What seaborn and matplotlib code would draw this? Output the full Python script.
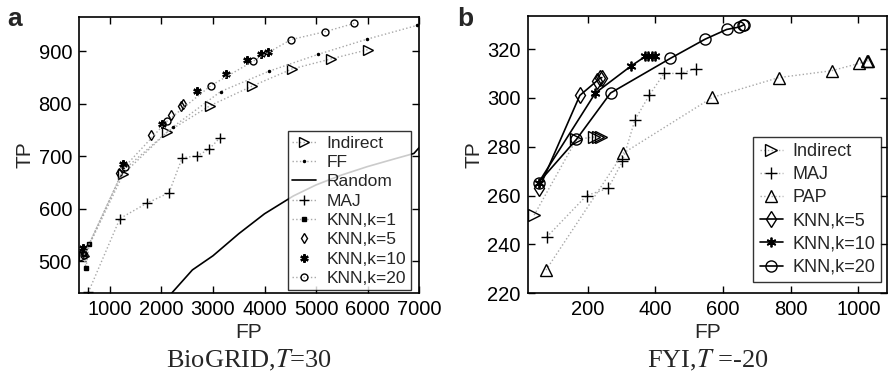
import matplotlib
matplotlib.use("Agg")
import matplotlib.pyplot as plt
import seaborn as sns

sns.set_style("ticks")
plt.rcParams["font.family"] = ["Liberation Sans", "DejaVu Sans"]
plt.rcParams["mathtext.fontset"] = "stix"

# ---- BioGRID, T=30 ----
a_indirect_fp = [500, 1259, 2113, 2942, 3751, 4534, 5284, 6016]
a_indirect_tp = [510, 666, 746, 796, 833, 866, 885, 903]
a_ff_fp = [520, 1250, 2230, 3149, 4094, 5045, 5997, 6960]
a_ff_tp = [516, 672, 756, 823, 862, 894, 923, 949]
a_random_fp = [2100, 2600, 3000, 3500, 4000, 4560, 5000, 5500, 6000, 6500, 6900, 7000]
a_random_tp = [428, 483, 510, 552, 590, 624, 645, 664, 680, 694, 705, 716]
a_maj_fp = [579, 1194, 1712, 2146, 2404, 2683, 2922, 3136]
a_maj_tp = [440, 581, 610, 630, 697, 700, 713, 735]
a_k1_fp = [490, 534, 599]
a_k1_tp = [514, 487, 533]
a_k5_fp = [480, 1175, 1790, 2184, 2379, 2420]
a_k5_tp = [518, 667, 741, 779, 796, 799]
a_k10_fp = [482, 1246, 2016, 2696, 3259, 3667, 3932, 4061]
a_k10_tp = [524, 684, 761, 824, 856, 883, 894, 899]
a_k20_fp = [500, 1291, 2113, 2954, 3783, 4514, 5174, 5744]
a_k20_tp = [512, 680, 767, 834, 881, 922, 937, 953]

# ---- FYI, T=-20 ----
b_indirect_fp = [42, 167, 220, 230, 240]
b_indirect_tp = [252, 283, 284, 284, 284]
b_maj_fp = [79, 197, 261, 303, 340, 382, 426, 475, 519]
b_maj_tp = [243, 260, 263, 274, 291, 301, 310, 310, 312]
b_pap_fp = [77, 305, 569, 765, 921, 1002, 1025, 1030]
b_pap_tp = [229.5, 277.3, 300.2, 308.3, 311.1, 314.1, 315.0, 315.2]
b_k5_fp = [57, 177, 228, 236, 242]
b_k5_tp = [263, 301, 307, 308, 308.3]
b_k10_fp = [55, 223, 328, 371, 380, 390, 398]
b_k10_tp = [265.3, 302, 313, 317, 317, 317, 317]
b_k20_fp = [55, 167, 268, 445, 547, 611, 648, 660, 663]
b_k20_tp = [265.3, 283, 302, 316.2, 324, 328, 329, 329.8, 330]

GRAY = "#a8a8a8"
ASTER = (6, 2, 0)

fig = plt.figure(figsize=(8.89, 3.76), dpi=100)
ax_a = fig.add_axes([0.0889, 0.2207, 0.3825, 0.734])
ax_b = fig.add_axes([0.5936, 0.2200, 0.4038, 0.738])


def draw(ax, fp, tp, label, marker, ms, ls=":", lc=GRAY, lw=1.0, fill="none", mew=1.0):
    sns.lineplot(x=fp, y=tp, ax=ax, sort=False, estimator=None, label=label,
                 color=lc, linestyle=ls, linewidth=lw, marker=marker,
                 markersize=ms, markerfacecolor=fill, markeredgecolor="black",
                 markeredgewidth=mew)


# panel a
draw(ax_a, a_indirect_fp, a_indirect_tp, "Indirect", ">", 7)
draw(ax_a, a_ff_fp, a_ff_tp, "FF", ".", 3, fill="black")
draw(ax_a, a_random_fp, a_random_tp, "Random", None, 0, ls="-", lc="black", lw=1.2)
draw(ax_a, a_maj_fp, a_maj_tp, "MAJ", "+", 7)
draw(ax_a, a_k1_fp, a_k1_tp, "KNN,k=1", "s", 3, fill="black")
draw(ax_a, a_k5_fp, a_k5_tp, "KNN,k=5", "d", 5, ls="none")
draw(ax_a, a_k10_fp, a_k10_tp, "KNN,k=10", ASTER, 6, ls="none", mew=1.6)
draw(ax_a, a_k20_fp, a_k20_tp, "KNN,k=20", "o", 5)

ax_a.set_xlim(400, 7000)
ax_a.set_ylim(439, 965)
ax_a.set_xticks([1000, 2000, 3000, 4000, 5000, 6000, 7000])
ax_a.set_yticks([500, 600, 700, 800, 900])

# panel b
draw(ax_b, b_indirect_fp, b_indirect_tp, "Indirect", ">", 8)
draw(ax_b, b_maj_fp, b_maj_tp, "MAJ", "+", 8)
draw(ax_b, b_pap_fp, b_pap_tp, "PAP", "^", 8)
draw(ax_b, b_k5_fp, b_k5_tp, "KNN,k=5", "d", 8, ls="-", lc="black", lw=1.2)
draw(ax_b, b_k10_fp, b_k10_tp, "KNN,k=10", ASTER, 7, ls="-", lc="black", lw=1.2, mew=1.3)
draw(ax_b, b_k20_fp, b_k20_tp, "KNN,k=20", "o", 8, ls="-", lc="black", lw=1.2)

ax_b.set_xlim(23, 1084)
ax_b.set_ylim(220, 333.6)
ax_b.set_xticks([200, 400, 600, 800, 1000])
ax_b.set_yticks([220, 240, 260, 280, 300, 320])

for ax in (ax_a, ax_b):
    ax.tick_params(direction="in", top=True, right=True, length=5, width=1,
                   labelsize=14.5, colors="black", pad=5)
    for sp in ax.spines.values():
        sp.set_linewidth(1.2)
        sp.set_color("black")
    ax.set_xlabel("FP", fontsize=15, labelpad=3)
    ax.set_ylabel("TP", fontsize=15, labelpad=3)

leg_a = ax_a.legend(loc="lower right", bbox_to_anchor=(0.975, 0.01), fontsize=12.5,
                    frameon=True, fancybox=False, edgecolor="black",
                    handlelength=1.4, handletextpad=0.6, labelspacing=0.24,
                    borderpad=0.25, borderaxespad=0.0)
leg_a.get_frame().set_linewidth(1.0)
leg_b = ax_b.legend(loc="lower right", bbox_to_anchor=(0.985, 0.04), fontsize=13,
                    frameon=True, fancybox=False, edgecolor="black",
                    handlelength=1.3, handletextpad=0.5, labelspacing=0.34,
                    borderpad=0.35, borderaxespad=0.0)
leg_b.get_frame().set_linewidth(1.0)

fig.text(0.008, 0.93, "a", fontsize=19, fontweight="bold")
fig.text(0.514, 0.93, "b", fontsize=19, fontweight="bold")

fig.text(0.2801, 0.024, "BioGRID,$T$=30", fontsize=19, ha="center",
         family=["Liberation Serif", "DejaVu Serif"])
fig.text(0.7955, 0.024, "FYI,$T$ =-20", fontsize=19, ha="center",
         family=["Liberation Serif", "DejaVu Serif"])

fig.savefig("out.png", dpi=100)
